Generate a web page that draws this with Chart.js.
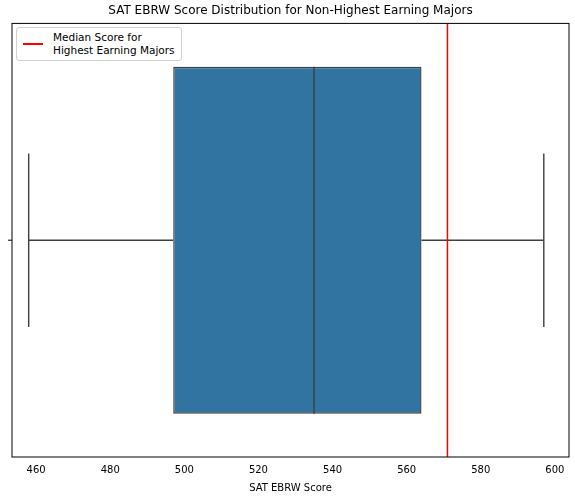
<!DOCTYPE html>
<html>
<head>
<script src="https://cdn.jsdelivr.net/npm/chart.js@4"></script>
<style>
  body { margin: 0; background: #fff; }
  #wrap { position: relative; width: 575px; height: 496px; }
  #legend { position: absolute; left: 16px; top: 27px; border: 1px solid #d0d0d0; border-radius: 3px;
    background: #fff; font: 10.5px "DejaVu Sans", sans-serif; color: #000; padding: 3px 6px 3px 6px;
    display: flex; align-items: center; line-height: 13px; }
  #legend span.sw { display: inline-block; width: 20px; height: 2px; background: red; margin-right: 10px; }
</style>
</head>
<body>
<div id="wrap">
  <canvas id="c" width="575" height="496"></canvas>
  <div id="legend"><span class="sw"></span><span>Median Score for<br>Highest Earning Majors</span></div>
</div>
<script>
const categories = [''];
const minVals = [458];
const q1Vals = [497];
const medianVals = [535];
const q3Vals = [564];
const maxVals = [597];
const highestMedian = 571;
const xTicks = [460, 480, 500, 520, 540, 560, 580, 600];

const boxPlugin = {
  id: 'boxParts',
  afterDatasetsDraw(chart) {
    const ctx = chart.ctx;
    const x = chart.scales.x, y = chart.scales.y;
    const area = chart.chartArea;
    const band = (area.bottom - area.top) / categories.length;
    ctx.save();
    ctx.strokeStyle = '#3f3f3f';
    ctx.lineWidth = 1.4;
    categories.forEach((c, i) => {
      const cy = y.getPixelForValue(i);
      const capH = band * 0.2;
      const boxH = band * 0.4;
      ctx.beginPath();
      ctx.moveTo(x.getPixelForValue(minVals[i]), cy);
      ctx.lineTo(x.getPixelForValue(q1Vals[i]), cy);
      ctx.moveTo(x.getPixelForValue(q3Vals[i]), cy);
      ctx.lineTo(x.getPixelForValue(maxVals[i]), cy);
      ctx.moveTo(x.getPixelForValue(minVals[i]), cy - capH);
      ctx.lineTo(x.getPixelForValue(minVals[i]), cy + capH);
      ctx.moveTo(x.getPixelForValue(maxVals[i]), cy - capH);
      ctx.lineTo(x.getPixelForValue(maxVals[i]), cy + capH);
      ctx.moveTo(x.getPixelForValue(medianVals[i]), cy - boxH);
      ctx.lineTo(x.getPixelForValue(medianVals[i]), cy + boxH);
      ctx.stroke();
      // small y tick
      ctx.strokeStyle = '#000';
      ctx.lineWidth = 1;
      ctx.beginPath();
      ctx.moveTo(area.left - 4, cy);
      ctx.lineTo(area.left, cy);
      ctx.stroke();
    });
    // red reference line
    ctx.strokeStyle = 'red';
    ctx.lineWidth = 1.5;
    const rx = x.getPixelForValue(highestMedian);
    ctx.beginPath();
    ctx.moveTo(rx, area.top);
    ctx.lineTo(rx, area.bottom);
    ctx.stroke();
    // frame
    ctx.strokeStyle = '#000';
    ctx.lineWidth = 1;
    ctx.strokeRect(area.left, area.top, area.right - area.left, area.bottom - area.top);
    ctx.restore();
  }
};

new Chart(document.getElementById('c'), {
  type: 'bar',
  data: {
    labels: categories,
    datasets: [{
      data: categories.map((c, i) => [q1Vals[i], q3Vals[i]]),
      backgroundColor: '#3274a1',
      borderColor: '#3f3f3f',
      borderWidth: 1.4,
      borderSkipped: false,
      categoryPercentage: 1,
      barPercentage: 0.8
    }]
  },
  options: {
    indexAxis: 'y',
    responsive: false,
    animation: false,
    layout: { padding: { left: 12, right: 6, top: 0, bottom: 0 } },
    plugins: {
      legend: { display: false },
      tooltip: { enabled: false },
      title: {
        display: true,
        text: 'SAT EBRW Score Distribution for Non-Highest Earning Majors',
        color: '#000',
        font: { family: 'DejaVu Sans', size: 12, weight: 'normal' },
        padding: { top: 4, bottom: 5 }
      }
    },
    scales: {
      x: {
        min: 453.5,
        max: 603.8,
        afterBuildTicks: s => { s.ticks = xTicks.map(v => ({ value: v })); },
        grid: { display: false, drawTicks: true, tickLength: 4, tickColor: '#000' },
        border: { display: false },
        ticks: { color: '#000', font: { family: 'DejaVu Sans', size: 10 }, padding: 3, maxRotation: 0, autoSkip: false },
        title: { display: true, text: 'SAT EBRW Score', color: '#000', font: { family: 'DejaVu Sans', size: 10 }, padding: { top: 3, bottom: 2 } }
      },
      y: { display: false }
    }
  },
  plugins: [boxPlugin]
});
</script>
</body>
</html>
